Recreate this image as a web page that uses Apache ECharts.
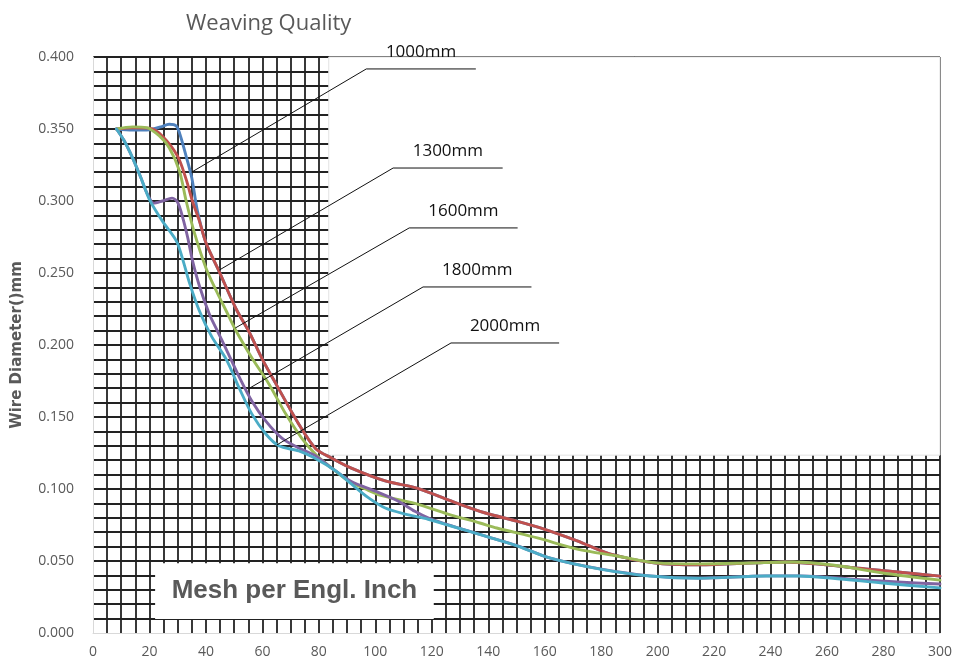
<!DOCTYPE html>
<html><head><meta charset="utf-8">
<script src="https://cdn.jsdelivr.net/npm/echarts@6/dist/echarts.min.js"></script>
<style>html,body{margin:0;padding:0;background:#fff}#c{width:955px;height:663px}</style>
</head><body><div id="c"></div>
<script>
// ---------- data ----------
const seriesNames = ['1000mm', '1300mm', '1600mm', '1800mm', '2000mm'];
const titleText = 'Weaving Quality';
const yAxisName = 'Wire Diameter()mm';
const xAxisName = 'Mesh per Engl. Inch';

const wire1000 = [[8.3,0.350],[14,0.3493],[20,0.3495],[24,0.3515],[27,0.3533],[29.5,0.352],[31,0.345],[33,0.331],[35,0.316],[37,0.293],[40,0.271],[44.7,0.251],[50.7,0.225],[55.3,0.209],[60,0.190],[64.8,0.173],[72.9,0.145],[78.9,0.128],[84.5,0.1215],[91.5,0.1145],[103.5,0.1056],[115,0.1005],[126.8,0.0917],[138.7,0.0835],[150.4,0.0775],[160,0.0720],[171.5,0.0640],[183,0.0550],[198.6,0.0487],[214.8,0.0473],[234.9,0.0487],[245.4,0.0493],[256,0.0480],[273.6,0.0445],[300,0.0395]];
const wire1300 = [[8.3,0.350],[14,0.3508],[20,0.3505],[24.6,0.345],[30,0.331],[33,0.315],[35.2,0.300],[37.7,0.286],[40,0.271],[44.7,0.251],[50.7,0.225],[55.3,0.209],[60,0.190],[64.8,0.173],[72.9,0.145],[78.9,0.128],[84.5,0.1215],[91.5,0.1145],[103.5,0.1056],[115,0.1005],[126.8,0.0917],[138.7,0.0835],[150.4,0.0775],[160,0.0720],[171.5,0.0640],[183,0.0550],[198.6,0.0487],[214.8,0.0473],[234.9,0.0487],[245.4,0.0493],[256,0.0480],[273.6,0.0445],[300,0.0395]];
const wire1600 = [[8.3,0.350],[14,0.3515],[19,0.351],[23.6,0.345],[27,0.337],[30.6,0.321],[33,0.300],[35.9,0.278],[40,0.2535],[43.7,0.2375],[47.2,0.2236],[50.7,0.2097],[56.3,0.191],[62.3,0.173],[68.3,0.152],[73.9,0.1354],[78.9,0.124],[84.5,0.1146],[90.5,0.1056],[96.5,0.100],[102,0.0955],[114,0.0900],[125.7,0.0826],[137,0.0764],[143,0.0729],[157.4,0.0660],[171.5,0.0583],[185.6,0.0535],[199.6,0.0487],[214.8,0.0480],[232.4,0.0486],[247.9,0.0493],[262,0.0472],[279.6,0.0417],[300,0.0367]];
const wire1800 = [[8.3,0.350],[11,0.342],[14,0.330],[17,0.316],[19,0.306],[21.5,0.2985],[24.6,0.300],[28,0.302],[30,0.299],[31.7,0.289],[33.5,0.275],[35.2,0.259],[37.7,0.241],[41.2,0.2215],[44,0.210],[47.2,0.197],[52,0.177],[56.3,0.161],[61.3,0.147],[66.9,0.1354],[72.9,0.1285],[78.9,0.123],[84.5,0.1146],[91.5,0.1052],[100,0.0985],[108,0.0917],[114,0.0845],[118.7,0.0800],[126.8,0.0745],[138.7,0.0675],[150.4,0.0605],[162,0.0520],[179.6,0.0445],[197.2,0.0397],[214.8,0.0381],[238.4,0.0397],[250,0.0397],[260,0.0388],[267.6,0.0376],[285,0.0354],[300,0.0340]];
const wire2000 = [[8.3,0.350],[11,0.342],[14,0.330],[17,0.316],[20,0.301],[24.6,0.286],[29.6,0.272],[31.7,0.260],[34.2,0.243],[37.7,0.2236],[42,0.206],[47.2,0.190],[51.8,0.170],[56.3,0.152],[61.3,0.138],[65.8,0.130],[72.9,0.1264],[78.9,0.121],[86,0.1125],[91.5,0.1035],[97.5,0.094],[103.5,0.0868],[110.6,0.0826],[118.7,0.0790],[126.8,0.0743],[138.7,0.0674],[150.4,0.0604],[162,0.0520],[179.6,0.0444],[197.2,0.0396],[214.8,0.0380],[238.4,0.0396],[250,0.0396],[262,0.0380],[279.6,0.0347],[300,0.0313]];

// ---------- layout / style ----------
const seriesData = [wire1000, wire1300, wire1600, wire1800, wire2000];
const colors = ['#4F81BD', '#C0504D', '#9BBB59', '#8064A2', '#4BACC6'];
// callouts: anchor on curve, elbow, end of horizontal line (axis units)
const callouts = [
  {a:[34.9,0.320], e:[96.8,0.3917], end:135.6},
  {a:[44.7,0.252], e:[106.3,0.3229], end:145.1},
  {a:[50.4,0.2118], e:[112.0,0.2813], end:150.4},
  {a:[54.9,0.1694], e:[116.9,0.2403], end:155.3},
  {a:[65.1,0.1306], e:[126.8,0.2014], end:165.1}
];
const gridColor = '#222';
const gridW = 1.8;

const chart = echarts.init(document.getElementById('c'), null, {renderer:'canvas'});

const lineSeries = seriesNames.map((n, i) => ({
  name: n, type: 'line', data: seriesData[i], z: 3,
  smooth: 0.3, showSymbol: false, symbol: 'none',
  lineStyle: {color: colors[i], width: 2.9, join: 'round', cap: 'round'}, itemStyle: {color: colors[i]}
}));

const option = {
  animation: false,
  backgroundColor: '#fff',
  title: {text: titleText, left: 181, top: 8,
    textStyle: {fontFamily: 'Open Sans', fontSize: 22, fontWeight: 'normal', color: '#595959'}},
  grid: {left: 93, right: 10, top: 57, bottom: 30, containLabel: false},
  xAxis: {
    type: 'value', min: 0, max: 300, interval: 20,
    axisLine: {show: true, lineStyle: {color: '#d9d9d9', width: 1}},
    axisTick: {show: false},
    axisLabel: {color: '#595959', fontSize: 14, fontFamily: 'Open Sans', margin: 12},
    splitLine: {show: true, showMinLine: false, lineStyle: {color: gridColor, width: gridW}},
    minorTick: {show: false, splitNumber: 4},
    minorSplitLine: {show: true, lineStyle: {color: gridColor, width: gridW}}
  },
  yAxis: {
    type: 'value', min: 0, max: 0.4, interval: 0.05,
    name: yAxisName, nameLocation: 'middle', nameGap: 68,
    nameTextStyle: {fontFamily: 'DejaVu Sans', fontSize: 15, fontWeight: 'bold', color: '#595959'},
    axisLine: {show: true, lineStyle: {color: '#d9d9d9', width: 1}},
    axisTick: {show: false},
    axisLabel: {color: '#595959', fontSize: 14, fontFamily: 'Open Sans', margin: 19,
      formatter: v => v.toFixed(3)},
    splitLine: {show: true, showMinLine: false, lineStyle: {color: gridColor, width: gridW}},
    minorTick: {show: false, splitNumber: 5},
    minorSplitLine: {show: true, lineStyle: {color: gridColor, width: gridW}}
  },
  series: [
    {
      name: 'masks', type: 'line', data: [], z: 1, silent: true,
      markArea: {
        silent: true,
        data: [
          [{coord: [83.5, 0.1235], itemStyle: {color: '#fff', borderColor: '#e2e2e2', borderWidth: 1}},
           {coord: [300, 0.4]}],
          [{coord: [22, 0.0097], itemStyle: {color: '#fff', borderWidth: 0},
            label: {show: true, position: 'inside', formatter: xAxisName,
              fontFamily: 'Liberation Sans', fontSize: 26, fontWeight: 'bold', color: '#595959'}},
           {coord: [120.7, 0.0485]}]
        ]
      }
    }
  ].concat(lineSeries)
};
chart.setOption(option);

// callout annotations positioned through the axes
const g = [];
callouts.forEach((c, i) => {
  const pa = chart.convertToPixel({gridIndex: 0}, c.a);
  const pe = chart.convertToPixel({gridIndex: 0}, c.e);
  const pend = chart.convertToPixel({gridIndex: 0}, [c.end, c.e[1]]);
  g.push({type: 'polyline', z: 50, silent: true,
    shape: {points: [pa, pe, pend]},
    style: {stroke: '#111', lineWidth: 1, fill: null}});
  g.push({type: 'text', z: 50, silent: true,
    x: (pe[0] + pend[0]) / 2, y: pe[1] - 17,
    style: {text: seriesNames[i], fill: '#111', font: '17px "Open Sans"',
      align: 'center', verticalAlign: 'middle'}});
});
chart.setOption({graphic: g});
</script>
</body></html>
